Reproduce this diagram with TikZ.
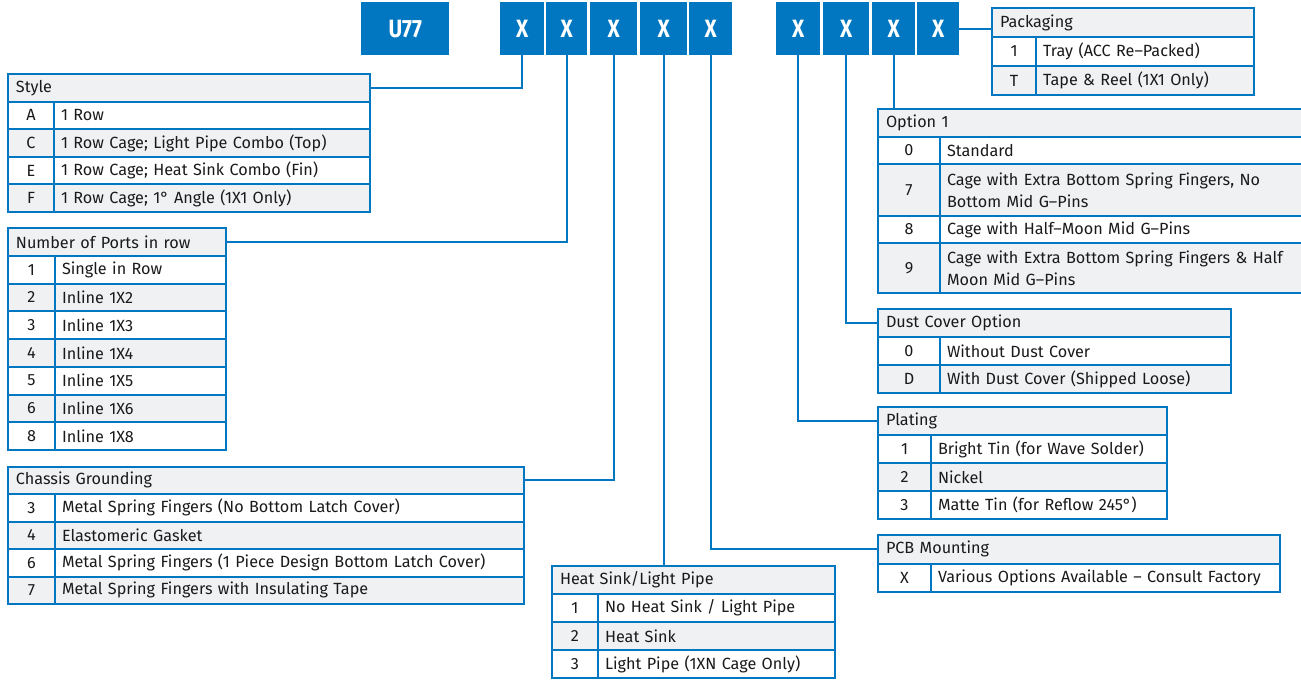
\documentclass[tikz,border=0pt]{standalone}
\usepackage{fontspec}
\setmainfont{Fira Sans}
\newfontfamily\keyfamily{Fira Sans}[FakeStretch=0.84]
\definecolor{mxblue}{HTML}{0077C0}
\definecolor{rowgrey}{HTML}{F0F1F3}
\definecolor{inkgrey}{HTML}{1A1A1A}
\newcommand{\cellfont}{\fontsize{16.2}{22}\selectfont}
\newcommand{\keyfont}{\keyfamily\bfseries\fontsize{25}{28}\selectfont}

\begin{document}
\begin{tikzpicture}[x=1pt,y=-1pt,
    cell/.style={draw=mxblue,line width=2pt,anchor=north west,inner ysep=0pt,text=inkgrey,font=\cellfont},
    hdrcell/.style={cell,fill=rowgrey,inner xsep=8pt,align=left},
    codecell/.style={cell,inner xsep=0pt,align=center},
    desccell/.style={cell,inner xsep=7pt,align=left},
    keybox/.style={fill=mxblue,text=white,font=\keyfont,anchor=north west,inner sep=0pt,minimum height=53pt},
    link/.style={draw=mxblue,line width=2pt}]
    \useasboundingbox (0,0) rectangle (1301,680);

    \node[keybox,minimum width=88pt] (u77) at (361,2) {U77};
    \foreach \n/\x/\w in {1/500/44,2/546/41,3/590/47,4/640/47,5/689/43,6/776/44,7/823/46,8/872/43,9/917/42}
      \node[keybox,minimum width=\w*1pt] (x\n) at (\x,2) {X};

    \node[hdrcell,text width=346pt,minimum height=27.6pt] (style) at (7,73) {Style};
    \foreach \c/\t/\f [count=\i from 0] in {A/1 Row/white,C/{1 Row Cage; Light Pipe Combo (Top)}/rowgrey,E/{1 Row Cage; Heat Sink Combo (Fin)}/white,F/{1 Row Cage; 1° Angle (1X1 Only)}/rowgrey} {
      \node[codecell,fill=\f,minimum width=46pt,minimum height=27.6pt] (style-c\i) at (7,100.6+\i*27.6) {\c};
      \node[desccell,fill=\f,text width=302pt,minimum height=27.6pt] (style-t\i) at (53,100.6+\i*27.6) {\t};
    }

    \node[hdrcell,text width=202pt,minimum height=27.75pt] (ports) at (7,227) {Number of Ports in row};
    \foreach \c/\t/\f [count=\i from 0] in {1/Single in Row/white,2/Inline 1X2/rowgrey,3/Inline 1X3/white,4/Inline 1X4/rowgrey,5/Inline 1X5/white,6/Inline 1X6/rowgrey,8/Inline 1X8/white} {
      \node[codecell,fill=\f,minimum width=47pt,minimum height=27.75pt] (ports-c\i) at (7,254.75+\i*27.75) {\c};
      \node[desccell,fill=\f,text width=157pt,minimum height=27.75pt] (ports-t\i) at (54,254.75+\i*27.75) {\t};
    }

    \node[hdrcell,text width=500pt,minimum height=27.5pt] (chassis) at (7,465.5) {Chassis Grounding};
    \foreach \c/\t/\f [count=\i from 0] in {3/Metal Spring Fingers (No Bottom Latch Cover)/white,4/Elastomeric Gasket/rowgrey,6/Metal Spring Fingers (1 Piece Design Bottom Latch Cover)/white,7/Metal Spring Fingers with Insulating Tape/rowgrey} {
      \node[codecell,fill=\f,minimum width=47pt,minimum height=27.5pt] (chassis-c\i) at (7,493+\i*27.5) {\c};
      \node[desccell,fill=\f,text width=455pt,minimum height=27.5pt] (chassis-t\i) at (54,493+\i*27.5) {\t};
    }

    \node[hdrcell,text width=267pt,minimum height=28pt] (heat) at (551,565) {Heat Sink/Light Pipe};
    \foreach \c/\t/\f [count=\i from 0] in {1/{No Heat Sink / Light Pipe}/white,2/Heat Sink/rowgrey,3/Light Pipe (1XN Cage Only)/white} {
      \node[codecell,fill=\f,minimum width=46pt,minimum height=28pt] (heat-c\i) at (551,593+\i*28) {\c};
      \node[desccell,fill=\f,text width=223pt,minimum height=28pt] (heat-t\i) at (597,593+\i*28) {\t};
    }

    \node[hdrcell,text width=246pt,minimum height=29pt] (pack) at (991,7) {Packaging};
    \foreach \c/\t/\f [count=\i from 0] in {1/Tray (ACC Re–Packed)/white,T/Tape \& Reel (1X1 Only)/rowgrey} {
      \node[codecell,fill=\f,minimum width=44pt,minimum height=29pt] (pack-c\i) at (991,36+\i*29) {\c};
      \node[desccell,fill=\f,text width=204pt,minimum height=29pt] (pack-t\i) at (1035,36+\i*29) {\t};
    }

    \node[hdrcell,text width=424pt,minimum height=28pt] (opt) at (877,108) {Option 1};
    \foreach \c/\t/\f/\y/\h [count=\i from 0] in {0/Standard/white/136/27,7/{Cage with Extra Bottom Spring Fingers, No\\Bottom Mid G–Pins}/rowgrey/163/52,8/Cage with Half–Moon Mid G–Pins/white/215/27,9/{Cage with Extra Bottom Spring Fingers \& Half\\Moon Mid G–Pins}/rowgrey/242/50} {
      \node[codecell,fill=\f,minimum width=62pt,minimum height=\h*1pt] (opt-c\i) at (877,\y) {\c};
      \node[desccell,fill=\f,text width=364pt,minimum height=\h*1pt] (opt-t\i) at (939,\y) {\t};
    }

    \node[hdrcell,text width=337pt,minimum height=28pt] (dust) at (877,308) {Dust Cover Option};
    \foreach \c/\t/\f [count=\i from 0] in {0/Without Dust Cover/white,D/With Dust Cover (Shipped Loose)/rowgrey} {
      \node[codecell,fill=\f,minimum width=62pt,minimum height=28pt] (dust-c\i) at (877,336+\i*28) {\c};
      \node[desccell,fill=\f,text width=277pt,minimum height=28pt] (dust-t\i) at (939,336+\i*28) {\t};
    }

    \node[hdrcell,text width=273pt,minimum height=28pt] (plating) at (877,406) {Plating};
    \foreach \c/\t/\f [count=\i from 0] in {1/Bright Tin (for Wave Solder)/white,2/Nickel/rowgrey,3/Matte Tin (for Reflow 245°)/white} {
      \node[codecell,fill=\f,minimum width=53pt,minimum height=28pt] (plating-c\i) at (877,434+\i*28) {\c};
      \node[desccell,fill=\f,text width=222pt,minimum height=28pt] (plating-t\i) at (930,434+\i*28) {\t};
    }

    \node[hdrcell,text width=386pt,minimum height=28.5pt] (pcb) at (877,534) {PCB Mounting};
    \node[codecell,fill=white,minimum width=53pt,minimum height=28.5pt] (pcb-c0) at (877,562.5) {X};
    \node[desccell,fill=white,text width=335pt,minimum height=28.5pt] (pcb-t0) at (930,562.5) {Various Options Available – Consult Factory};

    \draw[link] (style.east) -| (x1.south);
    \draw[link] (ports.east) -| (x2.south);
    \draw[link] (chassis.east) -| (x3.south);
    \draw[link] (x4.south) -- (x4.south |- heat.north);
    \draw[link] (pcb.west) -| (x5.south);
    \draw[link] (plating.west) -| (x6.south);
    \draw[link] (dust.west) -| (x7.south);
    \draw[link] (x8.south) -- (x8.south |- opt.north);
    \draw[link] (x9.east) -- (x9.east -| pack.west);
\end{tikzpicture}
\end{document}
